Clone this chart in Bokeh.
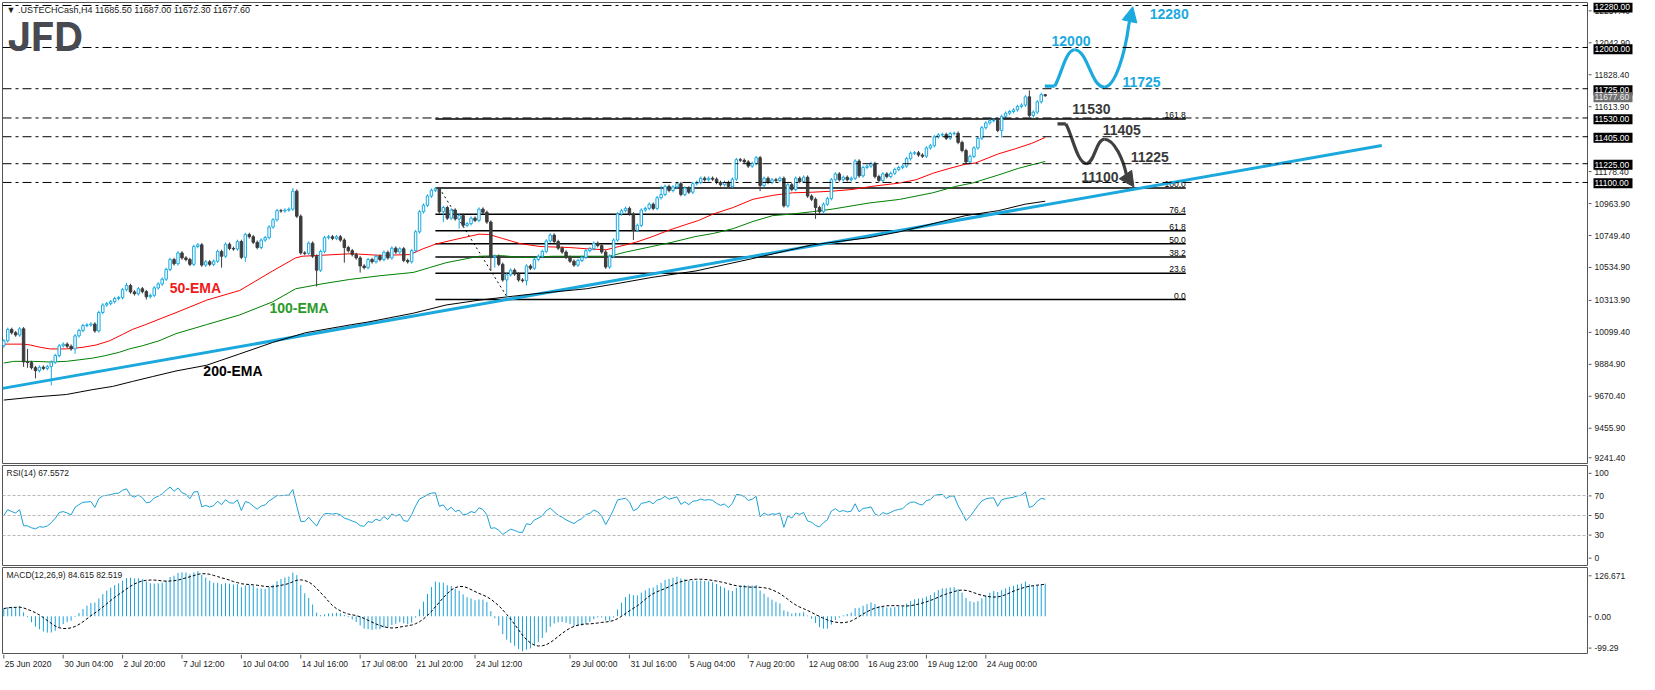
import numpy as np
from bokeh.plotting import figure
from bokeh.models import (Range1d, Span, Label, ColumnDataSource, Arrow, NormalHead)
from bokeh.layouts import column, row
from bokeh.embed import file_html
from bokeh.resources import INLINE
from bokeh.core.properties import value

# ---------------- data (H4 bars, index 0..263) ----------------
closes = [
    10044, 10120, 10098, 10083, 10124, 9903, 9899, 9865, 9845, 9868,
    9860, 9872, 9902, 9946, 10011, 10022, 10008, 9990, 10077, 10113,
    10146, 10150, 10156, 10110, 10233, 10283, 10292, 10305, 10326, 10332,
    10385, 10413, 10370, 10358, 10391, 10372, 10338, 10347, 10397, 10423,
    10455, 10520, 10586, 10558, 10630, 10597, 10586, 10554, 10673, 10684,
    10549, 10571, 10554, 10575, 10640, 10608, 10688, 10660, 10656, 10706,
    10601, 10753, 10738, 10701, 10666, 10716, 10732, 10803, 10851, 10912,
    10910, 10916, 10922, 11042, 10875, 10630, 10627, 10695, 10608, 10515,
    10640, 10732, 10738, 10727, 10738, 10716, 10666, 10645, 10619, 10597,
    10543, 10532, 10586, 10571, 10608, 10586, 10634, 10597, 10662, 10636,
    10658, 10580, 10571, 10645, 10771, 10905, 10948, 11009, 11048, 11058,
    10905, 10933, 10862, 10916, 10857, 10879, 10814, 10825, 10862, 10847,
    10922, 10901, 10836, 10601, 10608, 10554, 10450, 10484, 10515, 10489,
    10450, 10445, 10543, 10528, 10586, 10608, 10640, 10710, 10749, 10706,
    10662, 10636, 10601, 10575, 10549, 10580, 10601, 10645, 10658, 10695,
    10679, 10636, 10536, 10608, 10716, 10890, 10912, 10927, 10890, 10781,
    10814, 10916, 10927, 10955, 10927, 10998, 11020, 11074, 11046, 11070,
    11092, 11020, 11063, 11035, 11092, 11100, 11128, 11118, 11128, 11122,
    11100, 11085, 11100, 11074, 11122, 11252, 11248, 11237, 11209, 11226,
    11265, 11079, 11128, 11100, 11118, 11113, 11128, 10944, 11085, 11053,
    11128, 11107, 11135, 11009, 10988, 10933, 10905, 10955, 10992, 11118,
    11157, 11118, 11135, 11118, 11128, 11243, 11144, 11200, 11209, 11226,
    11139, 11113, 11157, 11139, 11161, 11187, 11200, 11209, 11259, 11295,
    11298, 11283, 11275, 11330, 11345, 11404, 11417, 11420, 11395, 11426,
    11428, 11367, 11313, 11237, 11274, 11330, 11395, 11465, 11497, 11512,
    11514, 11447, 11541, 11562, 11573, 11584, 11606, 11616, 11671, 11547,
    11569, 11638, 11685.5, 11677.6,
]
first_open = 10011.0
high_marks = {6: 9990, 31: 10430, 73: 11063, 110: 11063, 166: 11078, 259: 11714, 263: 11687.0}
low_marks = {5: 9870, 6: 9864, 8: 9794, 12: 9747, 18: 9957, 36: 10320, 55: 10532, 61: 10571,
             79: 10406, 86: 10565, 90: 10499, 111: 10836, 115: 10792, 123: 10510, 124: 10532,
             127: 10319, 132: 10413, 159: 10716, 191: 11042, 205: 10857, 252: 11400,
             260: 11530, 263: 11672.3}
wick = 12.0

ema50_bars = [0, 5, 6.7, 9.2, 11.7, 15.8, 20, 23.3, 26.7, 30, 32.5, 35.8, 40, 43.5, 51.2, 59.6,
              67.9, 73.7, 75.4, 87.9, 95, 102.5, 105.9, 109.2, 114.2, 120, 122.5, 125.9, 130.4,
              135.4, 142.9, 147.1, 152.1, 155.4, 159.6, 163.7, 167.9, 172.1, 175.4, 179.2, 184.2,
              189.2, 194.2, 199.2, 204.2, 209.2, 214.2, 219.2, 226.2, 230.4, 234.6, 238.7, 242.9,
              245.4, 251.2, 255.4, 259.6, 263]
ema50_vals = [10022, 10022, 10016, 10001, 9990, 9990, 10001, 10016, 10044, 10087, 10120, 10152,
              10196, 10232, 10315, 10380, 10510, 10597, 10608, 10625, 10614, 10619, 10658, 10690,
              10721, 10755, 10753, 10727, 10692, 10673, 10666, 10658, 10651, 10673, 10701, 10738,
              10781, 10818, 10846, 10890, 10933, 10988, 11014, 11031, 11035, 11042, 11053, 11074,
              11096, 11118, 11161, 11193, 11222, 11230, 11291, 11324, 11361, 11400]
ema100_bars = [0, 2.5, 7.5, 11.7, 15.8, 19.2, 22.5, 25.8, 29.2, 31.7, 35, 39.2, 43.5, 51.2, 59.6,
               67.9, 73.7, 80.4, 87.3, 95, 103.4, 107.5, 111.7, 120, 125.9, 131, 138.7, 147.1,
               152.9, 157.1, 163.7, 168.7, 174.8, 179.2, 184.2, 189.2, 194.2, 199.2, 204.2, 209.2,
               214.2, 218.5, 226.2, 234.6, 240.4, 244.6, 251.2, 256.2, 263]
ema100_vals = [9896, 9907, 9907, 9903, 9907, 9918, 9929, 9946, 9968, 9990, 10011, 10044, 10092,
               10152, 10217, 10304, 10391, 10424, 10453, 10478, 10500, 10532, 10565, 10608, 10612,
               10599, 10608, 10608, 10608, 10636, 10673, 10701, 10740, 10760, 10792, 10840, 10879,
               10890, 10905, 10922, 10944, 10963, 10987, 11031, 11074, 11096, 11150, 11194, 11240]
ema200_bars = [0, 7.5, 15.8, 22.5, 27.5, 32.5, 37.5, 43.5, 51.2, 59.6, 67.9, 76.2, 87.9, 91.7,
               103.4, 111.7, 120, 128.4, 133.5, 147.1, 155.4, 163.7, 174.8, 189.2, 204.2, 218.5,
               226.2, 234.6, 242.9, 251.2, 257.9, 263]
ema200_vals = [9649, 9669, 9686, 9719, 9740, 9773, 9805, 9843, 9881, 9957, 10033, 10098, 10152,
               10168, 10228, 10283, 10315, 10341, 10356, 10391, 10428, 10467, 10510, 10593, 10684,
               10732, 10771, 10825, 10879, 10912, 10955, 10975]

trend_bars = [-0.3, 348.0]
trend_vals = [9727.0, 11346.0]

levels = [12280.0, 12000.0, 11725.0, 11530.0, 11405.0, 11225.0, 11100.0]
current_price = 11677.6

fib_low = 10319.0
fib_high = 11063.0
fib_pcts = [0.0, 23.6, 38.2, 50.0, 61.8, 76.4, 100.0, 161.8]
fib_span_bars = [109.0, 298.5]
fib_swing_bars = [110.0, 127.5]

# price scale labels and where MT4 drew them
price_labels = ["9241.40", "9455.90", "9670.40", "9884.90", "10099.40", "10313.90", "10534.90",
                "10749.40", "10963.90", "11178.40", "11613.90", "11828.40", "12042.90", "12257.40"]
price_label_pos = [9258, 9455.9, 9670.4, 9884.9, 10099.4, 10313.9, 10534.9, 10749.4,
                   10963.9, 11178.4, 11613.9, 11828.4, 12042.9, 12257.4]
rsi_labels = ["100", "70", "50", "30", "0"]
rsi_label_pos = [93, 70, 50, 30, 6.5]
rsi_levels = [70, 50, 30]
macd_labels = ["126.671", "0.00", "-99.29"]
macd_label_pos = [107.5, 0, -82.5]

date_ticks = [0, 15, 30, 45, 60, 75, 90, 104, 119, 143, 158, 173, 188, 203, 218, 233, 248]
date_labels = ["25 Jun 2020", "30 Jun 04:00", "2 Jul 20:00", "7 Jul 12:00", "10 Jul 04:00",
               "14 Jul 16:00", "17 Jul 08:00", "21 Jul 20:00", "24 Jul 12:00", "29 Jul 00:00",
               "31 Jul 16:00", "5 Aug 04:00", "7 Aug 20:00", "12 Aug 08:00", "16 Aug 23:00",
               "19 Aug 12:00", "24 Aug 00:00"]

header_text = "\u25bc .USTECHCash,H4  11685.50 11687.00 11672.30 11677.60"
rsi_text = "RSI(14) 67.5572"
macd_text = "MACD(12,26,9) 84.615 82.519"

# scenario paths (bar, price)
bull_bars = [262.9, 265.4, 270.4, 277.9, 284.1, 285.1]
bull_vals = [11743, 11743, 11985, 11736, 12150, 12272]
bear_bars = [266.1, 268.2, 273.4, 277.9, 283.6, 285.4]
bear_vals = [11491, 11491, 11226, 11388, 11140, 11070]

bull_text = ["12000", "12280", "11725"]
bull_text_bars = [264.6, 289.4, 282.5]
bull_text_vals = [12044, 12220, 11771]
bear_text = ["11530", "11405", "11225", "11100"]
bear_text_bars = [269.85, 277.5, 284.6, 272.1]
bear_text_vals = [11588, 11451, 11269, 11139]

ema_text = ["50-EMA", "100-EMA", "200-EMA"]
ema_text_bars = [41.9, 67.1, 50.4]
ema_text_vals = [10398, 10261, 9844]

# ---------------- styles ----------------
BULL = "#17a9e1"
BEAR = "#3c3c3c"
TREND = "#1ba8dc"
IND = "#1ba1d6"
AX = "#555555"
FONT = "Liberation Sans"
CHART_W = 1588
AXIS_W = 51
TXT = "#222222"

# ---------------- derived series ----------------
c = np.array(closes, dtype=float)
n = len(c)
idx = np.arange(n, dtype=float)
o = np.concatenate([[first_open], c[:-1]])
hi = np.maximum(o, c) + wick
lo = np.minimum(o, c) - wick
for b, v in high_marks.items():
    hi[b] = max(v, max(o[b], c[b]))
for b, v in low_marks.items():
    lo[b] = min(v, min(o[b], c[b]))


def wilder_rsi(x, period, seed):
    out = np.empty(len(x))
    ag = al = seed
    out[0] = 50.0
    for i in range(1, len(x)):
        d = x[i] - x[i - 1]
        ag = (ag * (period - 1) + max(d, 0.0)) / period
        al = (al * (period - 1) + max(-d, 0.0)) / period
        out[i] = 100.0 - 100.0 / (1.0 + ag / al) if al > 0 else 100.0
    return out


def ema(x, period, seed):
    k = 2.0 / (period + 1)
    out = np.empty(len(x))
    e = seed
    for i, v in enumerate(x):
        if i > 0:
            e = e + k * (v - e)
        out[i] = e
    return out


rsi = wilder_rsi(c, 14, 22.0)
macd = ema(c, 12, c[0] + 10) - ema(c, 26, c[0] - 10)
signal = np.array([macd[max(0, i - 8):i + 1].mean() for i in range(n)])

# ---------------- figures ----------------
xr = Range1d(-0.325, 400.2)


def make_chart(h, yr, top, bottom):
    p = figure(width=CHART_W, height=h, x_range=xr, y_range=yr, output_backend="svg",
               toolbar_location=None, x_axis_location=None, y_axis_location=None,
               min_border_left=2, min_border_right=0, min_border_top=top,
               min_border_bottom=bottom)
    p.grid.visible = False
    p.outline_line_color = AX
    p.outline_line_width = 1
    p.background_fill_color = "white"
    p.border_fill_color = "white"
    return p


def make_axis(h, yr, pos, labels):
    a = figure(width=AXIS_W, height=h, x_range=Range1d(0, AXIS_W), y_range=yr,
               output_backend="svg", toolbar_location=None, x_axis_location=None,
               y_axis_location=None, min_border_left=0, min_border_right=0,
               min_border_top=0, min_border_bottom=0)
    a.grid.visible = False
    a.outline_line_color = None
    a.background_fill_color = "white"
    a.border_fill_color = "white"
    a.segment(x0=[0] * len(pos), y0=pos, x1=[3] * len(pos), y1=pos, line_color=AX, line_width=1)
    a.text(x=[6] * len(pos), y=pos, text=labels, text_font=value(FONT),
           text_font_size="8.5px", text_color=TXT, text_baseline="middle", text_align="left")
    return a


def padded(lo_v, hi_v, frame_h, top, bottom):
    per_px = (hi_v - lo_v) / frame_h
    return Range1d(lo_v - bottom * per_px, hi_v + top * per_px)


# ---- main price panel
MAIN_H, MAIN_T, MAIN_B = 464, 2, 1
main_yr = Range1d(9226, 12300)
pm = make_chart(MAIN_H, main_yr, MAIN_T, MAIN_B)
am = make_axis(MAIN_H, padded(9226, 12300, MAIN_H - MAIN_T - MAIN_B, MAIN_T, MAIN_B),
               price_label_pos, price_labels)

for lv in levels:
    pm.add_layout(Span(location=lv, dimension="width", line_color="black",
                       line_dash="9 4 3 4", line_width=1))

fib_vals = [fib_low + pct / 100.0 * (fib_high - fib_low) for pct in fib_pcts]
pm.segment(x0=[fib_span_bars[0]] * len(fib_vals), y0=fib_vals,
           x1=[fib_span_bars[1]] * len(fib_vals), y1=fib_vals,
           line_color="black", line_width=1.5)
pm.text(x=[fib_span_bars[1]] * len(fib_vals), y=fib_vals,
        text=[f"{pct:.1f}" for pct in fib_pcts], text_align="right",
        text_baseline="bottom", y_offset=-1, text_font_size="8.5px",
        text_font=value(FONT), text_color="black")
pm.line(fib_swing_bars, [fib_high, fib_low], line_color="black", line_dash="2 3", line_width=1)

pm.line(trend_bars, trend_vals, line_color=TREND, line_width=3)
pm.line(ema200_bars, ema200_vals, line_color="black", line_width=1)
pm.line(ema100_bars, ema100_vals, line_color="#008000", line_width=1)
pm.line(ema50_bars, ema50_vals, line_color="#ff0000", line_width=1)

inc = c >= o
dec = ~inc
for mask, col, fill in ((inc, BULL, "white"), (dec, BEAR, BEAR)):
    src = ColumnDataSource(dict(x=idx[mask], hi=hi[mask], lo=lo[mask],
                                top=np.maximum(o, c)[mask], bot=np.minimum(o, c)[mask]))
    pm.segment("x", "hi", "x", "lo", source=src, line_color=col, line_width=1)
    pm.vbar(x="x", width=0.62, top="top", bottom="bot", source=src,
            fill_color=fill, line_color=col, line_width=1)


def scenario(p, bx, by, color):
    p.line(bx[0:2], by[0:2], line_color=color, line_width=3.2)
    x0, y0, x1, y1, cx0, cy0, cx1, cy1 = [], [], [], [], [], [], [], []
    segs = len(bx) - 2
    for k in range(1, segs):
        xa, ya, xb, yb = bx[k], by[k], bx[k + 1], by[k + 1]
        dx, dy = xb - xa, yb - ya
        c0 = (xa + 0.3 * dx, ya + 0.25 * dy) if k == 1 else (xa + 0.45 * dx, ya)
        c1 = (xb - 0.15 * dx, yb - 0.45 * dy) if k == segs - 1 else (xb - 0.45 * dx, yb)
        x0.append(xa); y0.append(ya); x1.append(xb); y1.append(yb)
        cx0.append(c0[0]); cy0.append(c0[1]); cx1.append(c1[0]); cy1.append(c1[1])
    p.bezier(x0=x0, y0=y0, x1=x1, y1=y1, cx0=cx0, cy0=cy0, cx1=cx1, cy1=cy1,
             line_color=color, line_width=3.2)
    p.add_layout(Arrow(end=NormalHead(size=15, fill_color=color, line_color=color),
                       x_start=bx[-2], y_start=by[-2], x_end=bx[-1], y_end=by[-1],
                       line_color=color, line_width=3.2))


scenario(pm, bull_bars, bull_vals, "#1ba9de")
scenario(pm, bear_bars, bear_vals, "#404040")

pm.text(x=bull_text_bars, y=bull_text_vals, text=bull_text, text_color="#1ba9de",
        text_font=value(FONT), text_font_style="bold", text_font_size="14px",
        text_baseline="middle", text_align="left")
pm.text(x=bear_text_bars, y=bear_text_vals, text=bear_text, text_color="#3a3a3a",
        text_font=value(FONT), text_font_style="bold", text_font_size="14px",
        text_baseline="middle", text_align="left")
pm.text(x=ema_text_bars, y=ema_text_vals, text=ema_text,
        text_color=["#f01a1a", "#2a9a2a", "#000000"],
        text_font=value(FONT), text_font_style="bold", text_font_size="14px",
        text_baseline="middle", text_align="left")

pm.add_layout(Label(x=4, y=459, x_units="screen", y_units="screen", text=header_text,
                    text_font=FONT, text_font_size="9px", text_color="#202020",
                    text_baseline="top", text_align="left"))
pm.add_layout(Label(x=5, y=427, x_units="screen", y_units="screen", text="JFD",
                    text_font="Inter", text_font_style="bold", text_font_size="40px",
                    text_color="#474a51", text_baseline="alphabetic", text_align="left"))

# highlighted price boxes on the price scale
box_vals = levels + [current_price]
box_fill = ["black"] * len(levels) + ["#707070"]
box_txt_col = ["white"] * len(levels) + ["#f0f0f0"]
am.rect(x=[24.5] * len(box_vals), y=box_vals, width=39, height=10, height_units="screen",
        fill_color=box_fill, line_color=None)
am.text(x=[6] * len(box_vals), y=box_vals, text=[f"{v:.2f}" for v in box_vals],
        text_color=box_txt_col, text_font=value(FONT), text_font_size="8.5px",
        text_baseline="middle", text_align="left")

# ---- RSI panel
RSI_H = 102
rsi_yr = Range1d(0, 100)
pr = make_chart(RSI_H, rsi_yr, 1, 1)
ar = make_axis(RSI_H, padded(0, 100, RSI_H - 2, 1, 1), rsi_label_pos, rsi_labels)
for lv in rsi_levels:
    pr.add_layout(Span(location=lv, dimension="width", line_color="#b8b8b8",
                       line_dash="3 2", line_width=1))
pr.line(idx, rsi, line_color=IND, line_width=1)
pr.add_layout(Label(x=4, y=98, x_units="screen", y_units="screen", text=rsi_text,
                    text_font=FONT, text_font_size="8.5px", text_color="#202020",
                    text_baseline="top", text_align="left"))

# ---- MACD panel
MACD_H = 88
macd_yr = Range1d(-99.29, 126.671)
pd_ = make_chart(MACD_H, macd_yr, 1, 0)
ad = make_axis(MACD_H, padded(-99.29, 126.671, MACD_H - 1, 1, 0), macd_label_pos, macd_labels)
pd_.segment(x0=idx, y0=np.zeros(n), x1=idx, y1=macd, line_color=IND, line_width=1)
pd_.line(idx, signal, line_color="black", line_dash="3 2", line_width=1)
pd_.add_layout(Label(x=4, y=85, x_units="screen", y_units="screen", text=macd_text,
                     text_font=FONT, text_font_size="8.5px", text_color="#202020",
                     text_baseline="top", text_align="left"))

# ---- date scale
pt = figure(width=CHART_W, height=20, x_range=xr, y_range=Range1d(0, 20),
            output_backend="svg", toolbar_location=None, x_axis_location=None,
            y_axis_location=None, min_border_left=2, min_border_right=0,
            min_border_top=0, min_border_bottom=0)
pt.grid.visible = False
pt.outline_line_color = None
pt.border_fill_color = "white"
pt.segment(x0=date_ticks, y0=[20] * len(date_ticks), x1=date_ticks, y1=[16] * len(date_ticks),
           line_color=AX, line_width=1)
pt.text(x=date_ticks, y=[11] * len(date_ticks), text=date_labels, x_offset=1,
        text_font=value(FONT), text_font_size="8.5px", text_color=TXT,
        text_baseline="middle", text_align="left")

layout = column(row(pm, am, spacing=0), row(pr, ar, spacing=0), row(pd_, ad, spacing=0),
                pt, spacing=0)
open("out.html", "w").write(file_html(layout, INLINE))
